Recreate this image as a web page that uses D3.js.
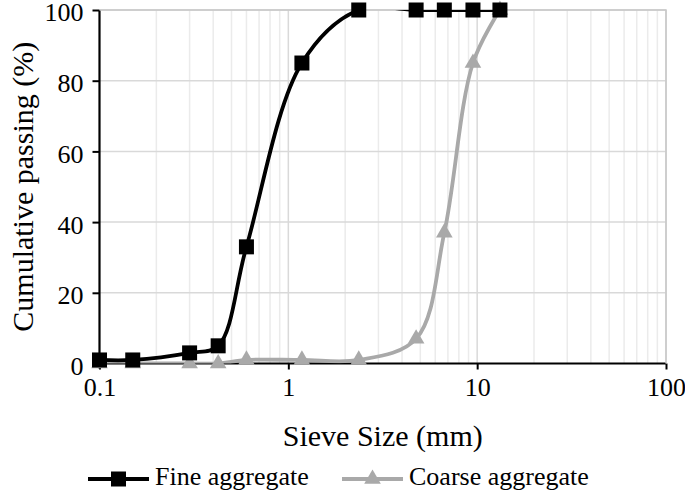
<!DOCTYPE html>
<html>
<head>
<meta charset="utf-8">
<script src="https://cdn.jsdelivr.net/npm/d3@7/dist/d3.min.js"></script>
<style>
  body { margin: 0; background: #fff; }
  text { font-family: "Liberation Serif", "Times New Roman", serif; fill: #000; }
</style>
</head>
<body>
<script>
// sieve sizes (mm) and cumulative passing (%)
const sieveSizes = [0.1, 0.15, 0.3, 0.425, 0.6, 1.18, 2.36, 4.75, 6.7, 9.5, 13.2];
const finePassing = [1, 1, 3, 5, 33, 85, 100, 100, 100, 100, 100];
const coarsePassing = [0, 0, 0, 0, 1, 1, 1, 7, 37, 85, 100];

const xTicks = [0.1, 1, 10, 100];
const yTicks = [0, 20, 40, 60, 80, 100];
const seriesNames = ['Fine aggregate', 'Coarse aggregate'];
const colors = ['#000000', '#a9a9a9'];

const width = 685;
const height = 492;
const margin = { top: 10, right: 19, bottom: 128.5, left: 99.5 };
const plotW = width - margin.left - margin.right;
const plotH = height - margin.top - margin.bottom;

const x = d3.scaleLog().domain([0.1, 100]).range([0, plotW]);
const y = d3.scaleLinear().domain([0, 100]).range([plotH, 0]);

const svg = d3.select('body').append('svg')
  .attr('width', width)
  .attr('height', height);

svg.append('rect').attr('width', width).attr('height', height).attr('fill', '#fff');

const g = svg.append('g')
  .attr('transform', `translate(${margin.left},${margin.top})`);

// minor vertical gridlines
const minorX = [];
[0.1, 1, 10].forEach(dec => {
  for (let k = 2; k <= 9; k++) minorX.push(dec * k);
});
g.selectAll('.minor')
  .data(minorX)
  .enter().append('line')
  .attr('x1', d => x(d)).attr('x2', d => x(d))
  .attr('y1', 0).attr('y2', plotH)
  .attr('stroke', '#ebebeb')
  .attr('stroke-width', 1.5);

// major vertical gridlines
g.selectAll('.majorx')
  .data(xTicks.slice(1))
  .enter().append('line')
  .attr('x1', d => x(d)).attr('x2', d => x(d))
  .attr('y1', 0).attr('y2', plotH)
  .attr('stroke', '#d9d9d9')
  .attr('stroke-width', 1.5);

// horizontal gridlines
g.selectAll('.majory')
  .data(yTicks.slice(1))
  .enter().append('line')
  .attr('x1', 0).attr('x2', plotW)
  .attr('y1', d => y(d)).attr('y2', d => y(d))
  .attr('stroke', '#d9d9d9')
  .attr('stroke-width', 1.5);

// clip for the curves
svg.append('clipPath').attr('id', 'plotclip')
  .append('rect').attr('width', plotW).attr('height', plotH);

const line = d3.line()
  .x(d => x(d[0]))
  .y(d => y(d[1]))
  .curve(d3.curveCatmullRom.alpha(0.5));

const fineData = sieveSizes.map((s, i) => [s, finePassing[i]]);
const coarseData = sieveSizes.map((s, i) => [s, coarsePassing[i]]);

// axes
const yAxis = g.append('g')
  .call(d3.axisLeft(y).tickValues(yTicks).tickSize(7).tickPadding(9).tickFormat(d3.format('d')));
yAxis.select('.domain').attr('stroke', '#000').attr('stroke-width', 2.2)
  .attr('d', `M0,${plotH + 5}V0`);
yAxis.selectAll('.tick line').attr('stroke-width', 2);
yAxis.selectAll('.tick text')
  .attr('dy', '0.42em')
  .style('font-family', '"Liberation Serif", "Times New Roman", serif')
  .style('font-size', '26px');

const xAxis = g.append('g')
  .attr('transform', `translate(0,${plotH})`)
  .call(d3.axisBottom(x).tickValues(xTicks).tickSize(6).tickPadding(8).tickFormat(d => d));
xAxis.select('.domain').attr('stroke', '#000').attr('stroke-width', 2.2)
  .attr('d', `M0,0H${plotW}`);
xAxis.selectAll('.tick line').attr('stroke-width', 2);
xAxis.selectAll('.tick text')
  .style('font-family', '"Liberation Serif", "Times New Roman", serif')
  .style('font-size', '26px');

// right / top plot border
g.append('path')
  .attr('d', `M0,0H${plotW}V${plotH}`)
  .attr('fill', 'none')
  .attr('stroke', '#c8c8c8')
  .attr('stroke-width', 1.5);

// curves
g.append('path')
  .datum(coarseData)
  .attr('clip-path', 'url(#plotclip)')
  .attr('fill', 'none')
  .attr('stroke', colors[1])
  .attr('stroke-width', 3.8)
  .attr('d', line);

g.append('path')
  .datum(fineData)
  .attr('clip-path', 'url(#plotclip)')
  .attr('fill', 'none')
  .attr('stroke', colors[0])
  .attr('stroke-width', 3.8)
  .attr('d', line);

const sq = 15;
const tri = d3.symbol().type(d3.symbolTriangle).size(120);

// markers
g.selectAll('.tri')
  .data(coarseData)
  .enter().append('path')
  .attr('d', tri)
  .attr('transform', d => `translate(${x(d[0])},${y(d[1])})`)
  .attr('fill', colors[1]);

g.selectAll('.sq')
  .data(fineData)
  .enter().append('rect')
  .attr('x', d => x(d[0]) - sq / 2)
  .attr('y', d => y(d[1]) - sq / 2)
  .attr('width', sq)
  .attr('height', sq)
  .attr('fill', colors[0]);

// axis titles
svg.append('text')
  .attr('x', margin.left + plotW / 2)
  .attr('y', 446)
  .attr('text-anchor', 'middle')
  .style('font-size', '30px')
  .text('Sieve Size (mm)');

svg.append('text')
  .attr('transform', `translate(33,${margin.top + plotH / 2}) rotate(-90)`)
  .attr('text-anchor', 'middle')
  .style('font-size', '30px')
  .text('Cumulative passing (%)');

// legend
const legendX = [88, 342];
const legend = svg.selectAll('.legend')
  .data(seriesNames)
  .enter().append('g')
  .attr('transform', (d, i) => `translate(${legendX[i]},479)`);

legend.append('line')
  .attr('x1', 0).attr('x2', 61)
  .attr('stroke', (d, i) => colors[i])
  .attr('stroke-width', 4);

legend.filter((d, i) => i === 0).append('rect')
  .attr('x', 30.5 - sq / 2).attr('y', -sq / 2)
  .attr('width', sq).attr('height', sq)
  .attr('fill', colors[0]);

legend.filter((d, i) => i === 1).append('path')
  .attr('d', tri)
  .attr('transform', 'translate(30.5,0)')
  .attr('fill', colors[1]);

legend.append('text')
  .attr('x', 67)
  .attr('y', 6)
  .style('font-size', '26px')
  .text(d => d);
</script>
</body>
</html>
